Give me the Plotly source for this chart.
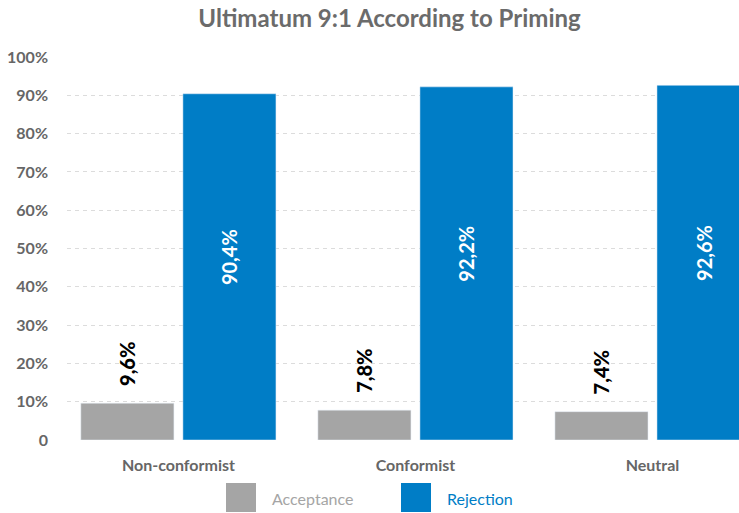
import plotly.graph_objects as go

categories = ["Non-conformist", "Conformist", "Neutral"]
acceptance = [9.6, 7.8, 7.4]
rejection = [90.4, 92.2, 92.6]
acc_labels = ["9,6%", "7,8%", "7,4%"]
rej_labels = ["90,4%", "92,2%", "92,6%"]
ytick_vals = [0, 10, 20, 30, 40, 50, 60, 70, 80, 90, 100]
ytick_text = ["0", "10%", "20%", "30%", "40%", "50%", "60%", "70%", "80%", "90%", "100%"]

GREY = "#A5A5A5"
BLUE = "#007DC6"
FONT = "Lato"
W, H = 739, 513
ML, MR, MT, MB = 67, 0, 57, 73
PW, PH = W - ML - MR, H - MT - MB


def px_x(p):
    return (p - ML) / PW


def px_y(p):
    return (H - MB - p) / PH


OUT_PAD = "\u00a0" * 3
IN_PAD = "\u00a0" * 4

fig = go.Figure()
fig.add_trace(go.Bar(
    x=categories, y=acceptance, name="Acceptance",
    marker_color=GREY, text=[OUT_PAD + t for t in acc_labels], textposition="outside", textangle=-90,
    textfont=dict(family=FONT, size=20, color="black", weight=900),
    constraintext="none", cliponaxis=False, hoverinfo="skip", showlegend=False,
))
fig.add_trace(go.Bar(
    x=categories, y=rejection, name="Rejection",
    marker_color=BLUE, text=[IN_PAD + t for t in rej_labels], textposition="inside", textangle=-90,
    insidetextanchor="middle",
    textfont=dict(family=FONT, size=20, color="white", weight="bold"),
    constraintext="none", hoverinfo="skip", showlegend=False,
))

# legend (drawn as layout items to get the large swatches)
legend_items = [("Acceptance", GREY, 226, 270), ("Rejection", BLUE, 401, 445)]
shapes, annotations = [], []
for name, col, sx, tx in legend_items:
    shapes.append(dict(type="rect", xref="paper", yref="paper",
                       x0=px_x(sx), x1=px_x(sx + 30), y0=px_y(512), y1=px_y(483),
                       fillcolor=col, line=dict(width=0)))
    annotations.append(dict(text=name, xref="paper", yref="paper", x=px_x(tx), y=px_y(498),
                            xanchor="left", yanchor="middle", showarrow=False,
                            font=dict(family=FONT, size=16, color=col)))

fig.update_layout(
    width=W, height=H,
    margin=dict(l=ML, r=MR, t=MT, b=MB),
    paper_bgcolor="white", plot_bgcolor="white",
    barmode="group", bargap=0.139, bargroupgap=0.088,
    title=dict(text="Ultimatum 9:1 According to Priming", x=389.5 / W, xanchor="center",
               y=1 - 19 / H, yanchor="middle",
               font=dict(family=FONT, size=24, color="#6B6B6B", weight="bold")),
    font=dict(family=FONT),
    showlegend=False,
    shapes=shapes, annotations=annotations,
    xaxis=dict(range=[-0.47, 2.365], showline=False, ticks="", ticklabelstandoff=14,
               tickfont=dict(family=FONT, size=16, color="#666666", weight="bold")),
    yaxis=dict(range=[0, 100], tickvals=ytick_vals, ticktext=ytick_text,
               showgrid=True, gridcolor="#DCDCDC", griddash="4px,4px", zeroline=False,
               ticks="", ticklabelstandoff=18,
               tickfont=dict(family=FONT, size=16, color="#666666", weight="bold")),
)

fig.write_html("out.html")
